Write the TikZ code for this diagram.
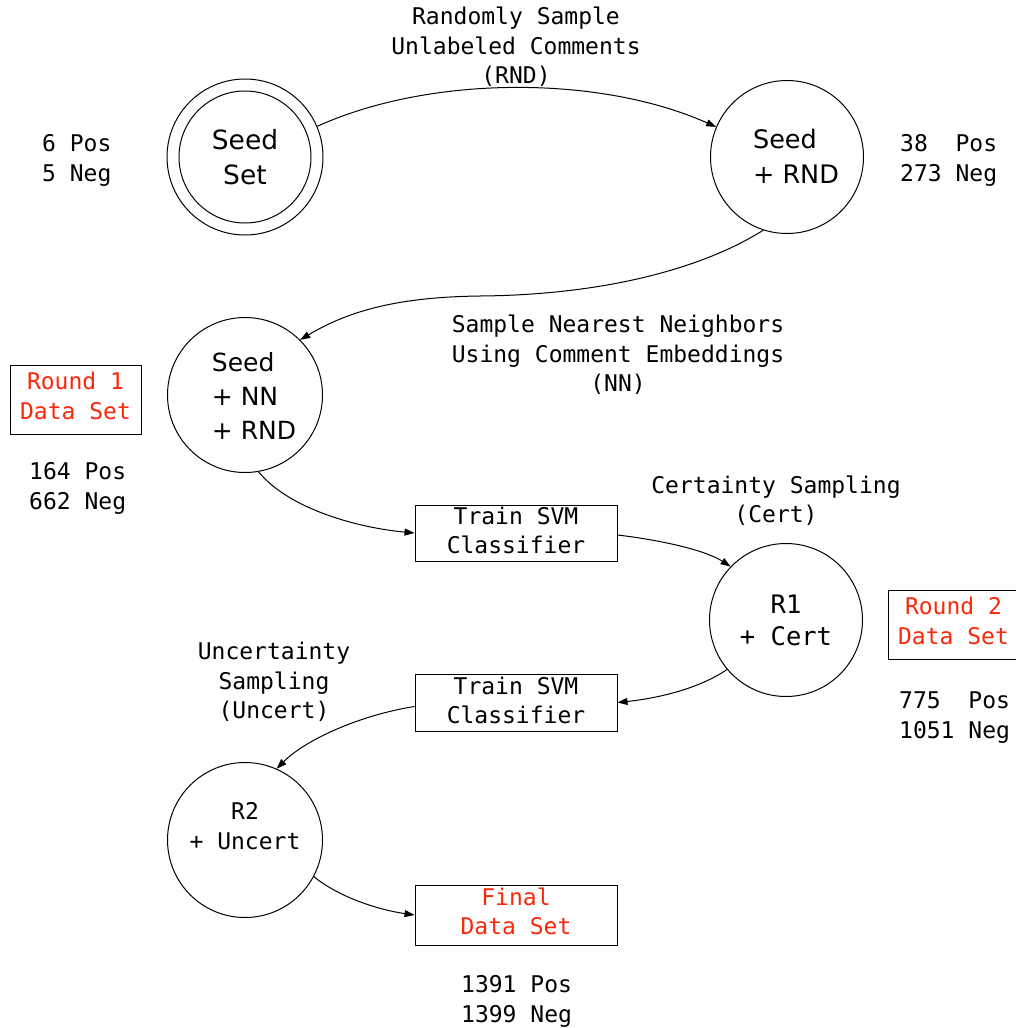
\documentclass[tikz,border=0pt]{standalone}
\usepackage{fontspec}
\setmainfont{DejaVu Sans Mono}
\newfontfamily\circfont{DejaVu Sans}
\usetikzlibrary{arrows.meta}
\definecolor{rd}{RGB}{250,40,10}
\begin{document}
\begin{tikzpicture}[x=1pt,y=1pt,
  lbl/.style={font=\fontsize{23}{29.3}\selectfont, align=center, inner sep=0pt},
  cnt/.style={font=\fontsize{23}{30}\selectfont, align=left, inner sep=0pt, anchor=west},
  state/.style={circle, draw, line width=1pt, minimum size=153pt, inner sep=0pt},
  proc/.style={draw, line width=1pt, minimum width=202pt, minimum height=56pt, inner sep=0pt},
  dset/.style={draw, line width=1pt, minimum width=131pt, minimum height=69pt, inner sep=0pt},
  redtxt/.style={font=\fontsize{23}{30}\selectfont, align=center, inner sep=0pt, text=rd},
  sanstxt/.style={font=\circfont\fontsize{26.5}{35}\selectfont, inner sep=0pt},
  flow/.style={line width=1pt, -{Triangle[length=10pt,width=7pt]}}
]
\useasboundingbox (0,0) rectangle (1016,-1028);

% states
\node[state, minimum size=156pt, sanstxt, align=center] (seed) at (245,-157) {Seed\\Set};
\draw[line width=1pt] (seed.center) circle (66);
\node[state] (rnd) at (787,-157) {};
\node[sanstxt, font=\circfont\fontsize{25.5}{35}\selectfont, align=left] (rndt) at (796,-156.5) {Seed\\+ RND};
\node[state, minimum size=155pt] (nn) at (245,-395) {};
\node[sanstxt, font=\circfont\fontsize{25}{34}\selectfont, align=left] (nnt) at (254,-396) {Seed\\+ NN\\+ RND};
\node[state, font=\fontsize{25.5}{32}\selectfont, align=center] (r1) at (786,-620) {R1\\+ Cert};
\node[state, minimum size=155pt] (r2) at (245,-840) {};
\node[lbl] (r2t) at (245,-826) {R2\\+ Uncert};

% boxes
\node[proc] (svm1) at (516,-533) {};
\node[lbl] (svm1t) at (516,-530.5) {Train SVM\\Classifier};
\node[proc, minimum height=57pt] (svm2) at (516,-702.5) {};
\node[lbl] (svm2t) at (516,-700.5) {Train SVM\\Classifier};
\node[proc, minimum height=60pt] (final) at (516,-915) {};
\node[redtxt, font=\fontsize{23}{29.3}\selectfont] (finalt) at (516,-911.5) {Final\\Data Set};
\node[dset] (round1) at (75.5,-399.5) {};
\node[redtxt] (round1t) at (75.5,-396) {Round 1\\Data Set};
\node[dset] (round2) at (953.5,-624.5) {};
\node[redtxt] (round2t) at (953.5,-621) {Round 2\\Data Set};

% counts
\node[cnt] (c0) at (42,-160.5) {6 Pos\\5 Neg};
\node[cnt] (c1) at (900,-160.5) {38~~Pos\\273 Neg};
\node[cnt] (c2) at (29,-488.5) {164 Pos\\662 Neg};
\node[cnt] (c3) at (899,-717.5) {775~~Pos\\1051 Neg};
\node[cnt] (c4) at (461,-1001) {1391 Pos\\1399 Neg};

% edge labels
\node[lbl] (l1) at (516,-47) {Randomly Sample\\Unlabeled Comments\\(RND)};
\node[lbl] (l2) at (618,-355) {Sample Nearest Neighbors\\Using Comment Embeddings\\(NN)};
\node[lbl] (l3) at (776,-501) {Certainty Sampling\\(Cert)};
\node[lbl] (l4) at (274,-682) {Uncertainty\\Sampling\\(Uncert)};

% connectors
\draw[flow] (seed.23) .. controls (430,-75) and (600,-75) .. (rnd.157);
\draw[flow] (rnd.252) .. controls (700,-270) and (600,-295) .. (480,-296)
   .. controls (400,-297) and (350,-310) .. (nn.45);
\draw[flow] (nn.280) .. controls (290,-510) and (360,-528) .. (svm1.west);
\draw[flow] ([yshift=-2pt]svm1.east) .. controls (660,-540) and (705,-550) .. (r1.136);
\draw[flow] (r1.220) .. controls (700,-688) and (660,-698) .. (svm2.east);
\draw[flow] ([yshift=-4pt]svm2.west) .. controls (360,-715) and (305,-740) .. (r2.66);
\draw[flow] (r2.332) .. controls (340,-898) and (380,-910) .. (final.west);
\end{tikzpicture}
\end{document}
